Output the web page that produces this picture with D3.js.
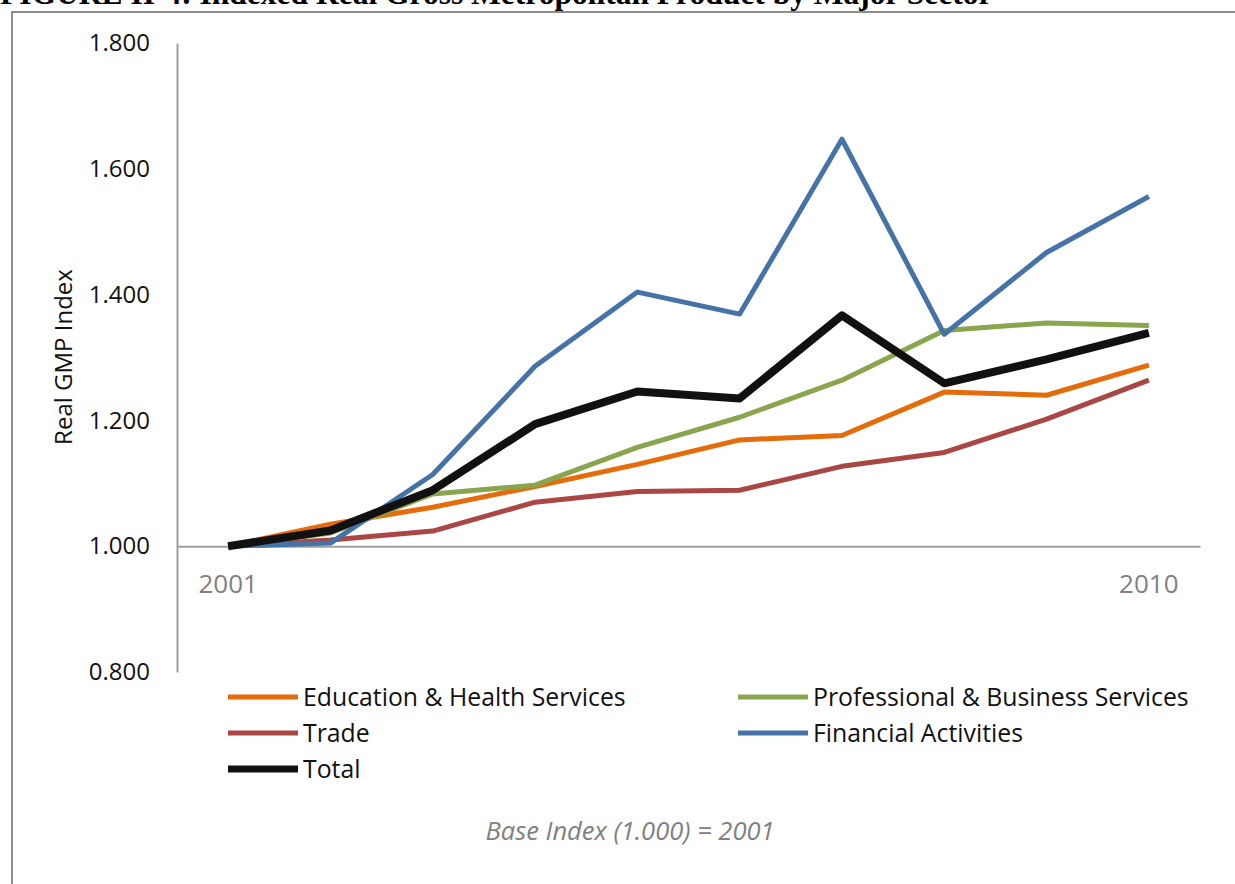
<!DOCTYPE html>
<html>
<head>
<meta charset="utf-8">
<script src="https://cdn.jsdelivr.net/npm/d3@7"></script>
<style>
  html, body { margin: 0; padding: 0; background: #fff; }
  svg { display: block; }
</style>
</head>
<body>
<svg id="chart" width="1235" height="884"></svg>
<script>
// Indexed real gross metropolitan product, 2001 = 1.000
const years = ["2001","2002","2003","2004","2005","2006","2007","2008","2009","2010"];
const yearLabels = ["2001","","","","","","","","","2010"];
const yTicks = [0.8, 1.0, 1.2, 1.4, 1.6, 1.8];

const education    = [1.000, 1.035, 1.062, 1.095, 1.130, 1.169, 1.176, 1.245, 1.240, 1.288];
const trade        = [1.000, 1.010, 1.024, 1.070, 1.087, 1.089, 1.127, 1.149, 1.202, 1.264];
const professional = [1.000, 1.021, 1.083, 1.097, 1.157, 1.205, 1.264, 1.343, 1.355, 1.351];
const financial    = [1.000, 1.005, 1.114, 1.286, 1.404, 1.369, 1.647, 1.337, 1.467, 1.556];
const total        = [1.000, 1.025, 1.089, 1.194, 1.246, 1.235, 1.367, 1.259, 1.297, 1.339];

// draw order (later on top)
const series = [
  { name: "Education & Health Services",     values: education,    color: "#E46C0A", width: 5 },
  { name: "Trade",                           values: trade,        color: "#AA4643", width: 5 },
  { name: "Professional & Business Services",values: professional, color: "#89A54E", width: 5 },
  { name: "Financial Activities",            values: financial,    color: "#4572A7", width: 5 },
  { name: "Total",                           values: total,        color: "#111111", width: 8 }
];
// legend order
const legendOrder = [
  "Education & Health Services", "Professional & Business Services",
  "Trade", "Financial Activities", "Total"
];

const svg = d3.select("#chart");
const font = "'Open Sans', 'Noto Sans', sans-serif";

// figure title, running off the top edge
svg.append("text")
  .attr("x", 0).attr("y", 4)
  .attr("font-family", "'Liberation Serif', 'DejaVu Serif', serif")
  .attr("font-weight", "bold")
  .attr("font-size", 31.5)
  .attr("fill", "#000")
  .text("FIGURE II-4: Indexed Real Gross Metropolitan Product by Major Sector");

// outer frame
svg.append("path")
  .attr("d", "M12,884 V12 H1235")
  .attr("fill", "none")
  .attr("stroke", "#8c8c8c")
  .attr("stroke-width", 2);

const plot = { left: 177, right: 1200, top: 43, bottom: 672 };

const x = d3.scaleBand().domain(years).range([plot.left, plot.right]);
const xc = d => x(d) + x.bandwidth() / 2;
const y = d3.scaleLinear().domain([0.8, 1.8]).range([plot.bottom, plot.top]);

// value axis
const yAxis = d3.axisLeft(y).tickValues(yTicks).tickFormat(d3.format(".3f")).tickSize(0).tickPadding(27);
const gy = svg.append("g").attr("transform", `translate(${plot.left},0)`).call(yAxis);
gy.select(".domain").attr("stroke", "#a0a0a0").attr("stroke-width", 2);
gy.selectAll("text").attr("font-family", font).attr("font-size", 24).attr("fill", "#111");

// category axis crossing at 1.000
const xAxis = d3.axisBottom(x).tickSize(0).tickPadding(28).tickFormat((d, i) => yearLabels[i]);
const gx = svg.append("g").attr("transform", `translate(0,${y(1.0)})`).call(xAxis);
gx.select(".domain").attr("stroke", "#a0a0a0").attr("stroke-width", 2);
gx.selectAll("text").attr("font-family", font).attr("font-size", 26).attr("fill", "#808080");

// axis title
svg.append("text")
  .attr("transform", `translate(72,357) rotate(-90)`)
  .attr("text-anchor", "middle")
  .attr("font-family", font).attr("font-size", 24).attr("fill", "#111")
  .text("Real GMP Index");

// series lines
const line = d3.line().x((d, i) => xc(years[i])).y(d => y(d));
svg.append("g").selectAll("path")
  .data(series)
  .join("path")
  .attr("d", d => line(d.values))
  .attr("fill", "none")
  .attr("stroke", d => d.color)
  .attr("stroke-width", d => d.width)
  .attr("stroke-linejoin", "round");

// legend
const legend = svg.append("g");
legendOrder.forEach((name, i) => {
  const s = series.find(d => d.name === name);
  const col = i % 2, row = Math.floor(i / 2);
  const lx = 228 + col * 510, ly = 697 + row * 36;
  legend.append("line")
    .attr("x1", lx).attr("x2", lx + 70).attr("y1", ly).attr("y2", ly)
    .attr("stroke", s.color).attr("stroke-width", s.width === 8 ? 7 : 5);
  legend.append("text")
    .attr("x", lx + 75).attr("y", ly).attr("dy", "0.35em")
    .attr("font-family", font).attr("font-size", 24.8).attr("fill", "#111")
    .text(name);
});

// footnote
svg.append("text")
  .attr("x", 630).attr("y", 840)
  .attr("text-anchor", "middle")
  .attr("font-family", font).attr("font-style", "italic")
  .attr("font-size", 25.5).attr("fill", "#808080")
  .text("Base Index (1.000) = 2001");
</script>
</body>
</html>
